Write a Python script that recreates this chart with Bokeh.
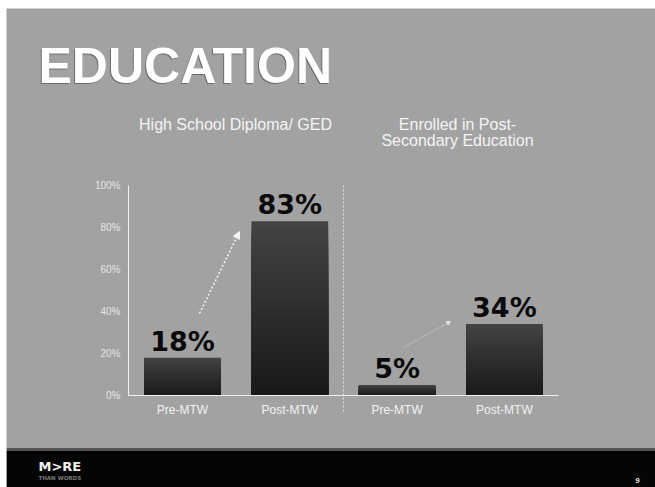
from bokeh.plotting import figure
from bokeh.models import (Range1d, LinearAxis, FixedTicker, PrintfTickFormatter,
                          Arrow, NormalHead)
from bokeh.core.properties import value
from bokeh.embed import file_html
from bokeh.resources import INLINE

# ---------------- data ----------------
categories = ["Pre-MTW", "Post-MTW", "Pre-MTW", "Post-MTW"]
positions = [0, 1, 2, 3]
values = [18, 83, 5, 34]
group_titles = [["High School Diploma/ GED"], ["Enrolled in Post-", "Secondary Education"]]
y_ticks = [0, 20, 40, 60, 80, 100]
slide_title = "EDUCATION"

# ---------------- layout helpers (pixel -> data) ----------------
def px2x(px):
    return (px - 182.0) / 107.3

def py2y(py):
    return (395.0 - py) / 2.1

W, H = 655, 487
GREY = "#a2a2a2"
BASE = 0.39  # baseline correction factor (fraction of font size)

p = figure(width=W, height=H, output_backend="svg", toolbar_location=None,
           x_axis_type=None, y_axis_type=None,
           x_range=Range1d(px2x(6), px2x(W)), y_range=Range1d(py2y(H), py2y(8)),
           min_border_left=6, min_border_top=8, min_border_right=0, min_border_bottom=0)
p.outline_line_color = None
p.background_fill_color = GREY
p.border_fill_color = "white"
p.grid.visible = False

# footer band
p.quad(left=[px2x(6)], right=[px2x(W)], bottom=[py2y(H)], top=[py2y(450)],
       fill_color="#050505", line_color=None)
p.segment(x0=[px2x(6)], x1=[px2x(W)], y0=[py2y(448.5)], y1=[py2y(448.5)],
          line_color="#555555", line_width=2)

# bars with vertical gradient (overlapping layers, lightest on top edge)
N = 24
bx, bt, bc = [], [], []
for k in range(N):
    f = 1 - k / (N - 1)
    g = int(round(0x1a + (0x42 - 0x1a) * f))
    col = "#%02x%02x%02x" % (g, g, g)
    for xi, v in zip(positions, values):
        bx.append(xi)
        bt.append(v * (N - k) / N)
        bc.append(col)
p.vbar(x=bx, bottom=0, top=bt, width=0.715, fill_color=bc, line_color=None)

# value labels
fs = 27
p.text(x=positions, y=values, text=[f"{v}%" for v in values],
       text_font=value("DejaVu Sans"), text_font_style="bold", text_font_size=f"{fs}px",
       text_color="#0a0a0a", text_align="center", text_baseline="alphabetic",
       y_offset=-6 - BASE * fs)

# separator
p.segment(x0=[1.5], x1=[1.5], y0=[100], y1=[py2y(413)], line_color="#e4e4e4",
          line_width=1, line_dash="2 2")

# arrows
p.add_layout(Arrow(x_start=px2x(199), y_start=py2y(313), x_end=px2x(239), y_end=py2y(231),
                   line_color="#f4f4f4", line_width=1.5, line_dash="2 2",
                   end=NormalHead(size=7, fill_color="#f4f4f4", line_color="#f4f4f4")))
p.add_layout(Arrow(x_start=px2x(403), y_start=py2y(347), x_end=px2x(450), y_end=py2y(321),
                   line_color="#c4c4c4", line_width=1, line_alpha=0.7,
                   end=NormalHead(size=4, fill_color="#e0e0e0", line_color="#e0e0e0")))

# y axis
yax = LinearAxis(fixed_location=px2x(128), bounds=(0, 100),
                 ticker=FixedTicker(ticks=y_ticks),
                 formatter=PrintfTickFormatter(format="%d%%"))
yax.axis_line_color = "#f2f2f2"
yax.axis_line_width = 1
yax.major_tick_in = 0
yax.major_tick_out = 0
yax.minor_tick_in = 0
yax.minor_tick_out = 0
yax.major_label_standoff = 8
yax.major_label_text_font = "Liberation Sans"
yax.major_label_text_font_size = "10px"
yax.major_label_text_color = "#e6e6e6"
p.add_layout(yax, "left")

# x axis (baseline + category labels)
xax = LinearAxis(fixed_location=0, bounds=(px2x(128), px2x(558)),
                 ticker=FixedTicker(ticks=positions),
                 major_label_overrides={i: c for i, c in zip(positions, categories)})
xax.axis_line_color = "#f2f2f2"
xax.axis_line_width = 1
xax.major_tick_in = 0
xax.major_tick_out = 0
xax.minor_tick_in = 0
xax.minor_tick_out = 0
xax.major_label_standoff = 7
xax.major_label_text_font = "Liberation Sans"
xax.major_label_text_font_size = "12px"
xax.major_label_text_color = "#f2f2f2"
p.add_layout(xax, "below")

# group titles
gx = [px2x(235), px2x(457)]
for cx, lines in zip(gx, group_titles):
    for j, line in enumerate(lines):
        p.text(x=[cx], y=[py2y(130 + 16 * j)], text=[line],
               text_font=value("Liberation Sans"), text_font_size="16px",
               text_color="#f4f4f4", text_align="center", text_baseline="alphabetic",
               y_offset=-BASE * 16)

# slide title with subtle shadow
tfs = 50
p.text(x=[px2x(38)], y=[py2y(83)], text=[slide_title], x_offset=-1.0, y_offset=1.0 - BASE * tfs + 2,
       text_font=value("Liberation Sans"), text_font_style="bold", text_font_size=f"{tfs}px",
       text_color="#2a2a2a", text_alpha=0.45, text_align="left", text_baseline="alphabetic")
p.text(x=[px2x(38)], y=[py2y(83)], text=[slide_title], y_offset=-BASE * tfs + 2,
       text_font=value("Liberation Sans"), text_font_style="bold", text_font_size=f"{tfs}px",
       text_color="#ffffff", text_align="left", text_baseline="alphabetic")

# footer logo and page number
p.text(x=[px2x(38)], y=[py2y(470)], text=["M>RE"], y_offset=-BASE * 14 + 1,
       text_font=value("DejaVu Sans"), text_font_style="bold", text_font_size="13px",
       text_color="#f0f0f0", text_align="left", text_baseline="alphabetic")
p.text(x=[px2x(38)], y=[py2y(478)], text=["THAN WORDS"], y_offset=-1,
       text_font=value("DejaVu Sans"), text_font_style="bold", text_font_size="5.5px",
       text_color="#7a7a7a", text_align="left", text_baseline="alphabetic")
p.text(x=[px2x(637)], y=[py2y(483)], text=["9"], y_offset=-3,
       text_font=value("Liberation Sans"), text_font_style="bold", text_font_size="8px",
       text_color="#e0e0e0", text_align="center", text_baseline="alphabetic")

open("out.html", "w").write(file_html(p, INLINE))
